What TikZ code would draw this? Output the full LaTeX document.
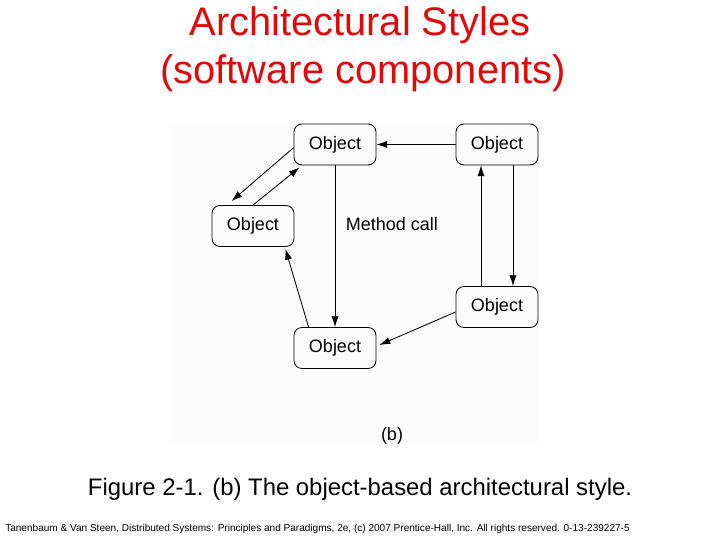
\documentclass[tikz,border=0pt]{standalone}
\usepackage{fontspec}
\setmainfont{Liberation Sans}
\usetikzlibrary{arrows.meta}
\definecolor{titlered}{RGB}{224,8,8}
\begin{document}
\begin{tikzpicture}[obj/.style={draw,line width=0.6pt,rounded corners=0.2cm,minimum width=2.05cm,minimum height=1.025cm,font=\fontsize{12.8}{15}\selectfont},
		arr/.style={-{Latex[length=0.27cm,width=0.18cm]},line width=0.6pt}]
		\useasboundingbox (0,0) rectangle (18,13.5);
		\fill[black!1] (4.275,2.4) rectangle (13.45,10.4);
		\node[anchor=base,text=titlered,font=\fontsize{28.35}{34}\selectfont] (title) at (9,12.6) {Architectural Styles};
		\node[anchor=base,text=titlered,font=\fontsize{28.35}{34}\selectfont] (subtitle) at (9.075,11.4) {(software components)};
		\foreach \n/\x/\y in {oTop/8.375/9.888, oRight/12.425/9.888, oLeft/6.325/7.85, oMid/12.425/5.825, oBottom/8.375/4.8}
				\node[obj] (\n) at (\x,\y) {Object};
		\node[anchor=west,font=\fontsize{12.8}{15}\selectfont] (call) at (8.525,7.9) {Method call};
		\node[font=\fontsize{12.8}{15}\selectfont] (b) at (9.8,2.6) {(b)};
		\draw[arr] (oRight.west) -- (oTop.east);
		\draw[arr] ([yshift=-0.08cm]oTop.west) -- ([xshift=0.5cm,yshift=0.1cm]oLeft.north west);
		\draw[arr] (oLeft.north) -- ([xshift=0.15cm,yshift=-0.05cm]oTop.south west);
		\draw[arr] (oTop.south) -- (oBottom.north);
		\draw[arr] ([xshift=0.375cm]oBottom.north west) -- ([xshift=-0.225cm,yshift=-0.05cm]oLeft.south east);
		\draw[arr] ([yshift=-0.125cm]oMid.west) -- ([xshift=0.075cm,yshift=0.075cm]oBottom.east);
		\draw[arr] ([xshift=-0.4cm]oMid.north) -- ([xshift=-0.4cm]oRight.south);
		\draw[arr] ([xshift=0.4cm]oRight.south) -- ([xshift=0.4cm]oMid.north);
		\node[anchor=base,font=\fontsize{17}{20}\selectfont] (caption) at (9,1.1) {Figure 2-1. (b) The object-based architectural style.};
		\node[anchor=base west,inner sep=0pt,font=\fontsize{7.15}{8}\selectfont] (credit) at (0.125,0.225) {Tanenbaum \& Van Steen, Distributed Systems: Principles and Paradigms, 2e, (c) 2007 Prentice-Hall, Inc. All rights reserved. 0-13-239227-5};
\end{tikzpicture}
\end{document}
